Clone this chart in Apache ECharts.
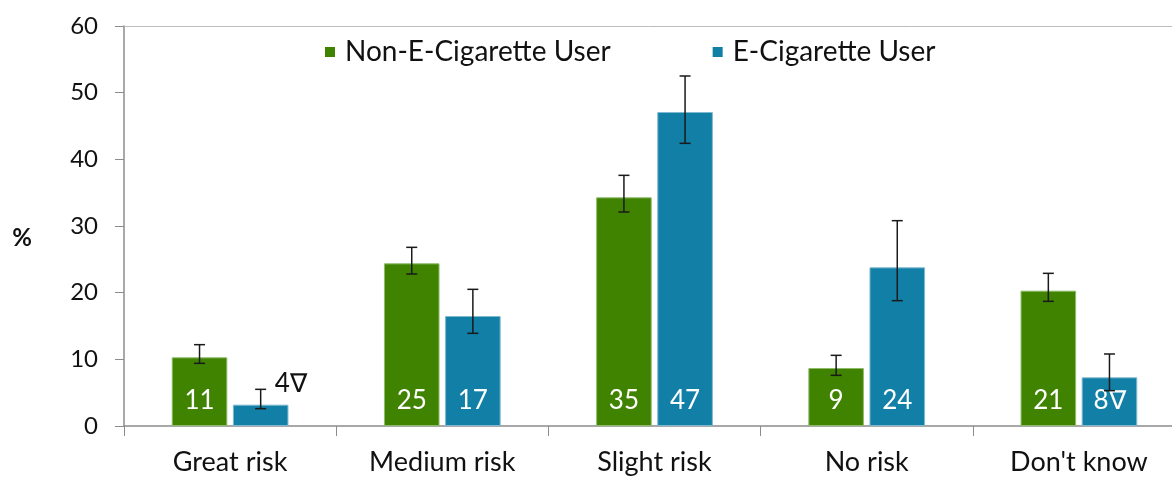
<!DOCTYPE html>
<html>
<head>
<meta charset="utf-8">
<script src="https://cdn.jsdelivr.net/npm/echarts@6/dist/echarts.min.js"></script>
<style>
  html, body { margin: 0; padding: 0; background: #fff; }
  #chart { width: 1172px; height: 477px; }
</style>
</head>
<body>
<div id="chart"></div>
<script>
// Data
const categories = ['Great risk', 'Medium risk', 'Slight risk', 'No risk', "Don't know"];
const seriesNames = ['Non-E-Cigarette User', 'E-Cigarette User'];

const nonUserValues = [10.3, 24.4, 34.3, 8.7, 20.3];
const nonUserLow = [9.4, 22.8, 32.1, 7.6, 18.7];
const nonUserHigh = [12.2, 26.8, 37.6, 10.6, 22.9];
const nonUserLabels = ['11', '25', '35', '9', '21'];

const userValues = [3.2, 16.5, 47.1, 23.8, 7.3];
const userLow = [2.6, 13.9, 42.4, 18.8, 5.3];
const userHigh = [5.5, 20.5, 52.5, 30.8, 10.8];
const userLabels = ['4\u2207', '17', '47', '24', '8\u2207'];

const yTicks = [0, 10, 20, 30, 40, 50, 60];

const GREEN = '#3f8300';
const BLUE = '#127fa7';
const FONT = 'Lato';

const chart = echarts.init(document.getElementById('chart'), null, { renderer: 'canvas' });

// bar layout shared between bars and error bars
const CAT_GAP = 0.45, BAR_GAP = 0.1;

function barData(values, labels) {
	return values.map((v, i) => {
		const item = { value: v, label: { formatter: labels[i] } };
		// too short for an inside label: put it above, black
		if (v < 5) {
			item.label = {
				formatter: labels[i],
				position: 'top',
				color: '#111',
				offset: [30, 4]
			};
		}
		return item;
	});
}

function errorData(low, high) {
	return low.map((lo, i) => [i, lo, high[i]]);
}

function errorRender(side) {
	return function (params, api) {
		const cat = api.value(0);
		const lo = api.coord([cat, api.value(1)]);
		const hi = api.coord([cat, api.value(2)]);
		const band = api.size([1, 0])[0];
		const barW = band * (1 - CAT_GAP) / (2 + BAR_GAP);
		const x = lo[0] + side * barW * (1 + BAR_GAP) / 2;
		const cap = 5.5;
		const style = { stroke: '#1a1a1a', lineWidth: 1.5 };
		return {
			type: 'group',
			children: [
				{ type: 'line', shape: { x1: x, y1: hi[1], x2: x, y2: lo[1] }, style },
				{ type: 'line', shape: { x1: x - cap, y1: hi[1], x2: x + cap, y2: hi[1] }, style },
				{ type: 'line', shape: { x1: x - cap, y1: lo[1], x2: x + cap, y2: lo[1] }, style }
			]
		};
	};
}

const barLabel = {
	show: true,
	position: 'insideBottom',
	distance: 12,
	color: '#fff',
	fontFamily: FONT,
	fontSize: 26
};

const option = {
	animation: false,
	textStyle: { fontFamily: FONT },
	legend: {
		data: seriesNames,
		left: 320,
		top: 33,
		icon: 'rect',
		itemWidth: 10,
		itemHeight: 10,
		itemGap: 102,
		itemStyle: { borderWidth: 0 },
		textStyle: { fontFamily: FONT, fontSize: 28, color: '#111', padding: [0, 0, 0, 5] }
	},
	grid: {
		left: 124,
		right: -13,
		top: 26,
		bottom: 51,
		containLabel: false,
		outerBoundsMode: 'none'
	},
	xAxis: [
		{
			type: 'category',
			data: categories,
			axisLine: { lineStyle: { color: '#8c8c8c', width: 1.5 } },
			axisTick: { show: true, length: 10, lineStyle: { color: '#8c8c8c' } },
			axisLabel: { margin: 23, fontFamily: FONT, fontSize: 27, color: '#111' }
		},
		{
			// top edge of the plot area
			type: 'category',
			position: 'top',
			data: categories,
			axisLine: { show: true, lineStyle: { color: '#bdbdbd', width: 1 } },
			axisTick: { show: false },
			axisLabel: { show: false }
		}
	],
	yAxis: {
		type: 'value',
		min: yTicks[0],
		max: yTicks[yTicks.length - 1],
		interval: 10,
		name: '%',
		nameLocation: 'middle',
		nameRotate: 0,
		nameGap: 92,
		nameTextStyle: { fontFamily: FONT, fontSize: 24, fontWeight: 'bold', color: '#111', verticalAlign: 'top' },
		axisLine: { show: true, lineStyle: { color: '#8c8c8c', width: 1.5 } },
		axisTick: { show: true, length: 9, lineStyle: { color: '#8c8c8c' } },
		axisLabel: { margin: 26, fontFamily: FONT, fontSize: 24, color: '#111' },
		splitLine: { show: false }
	},
	series: [
		{
			name: seriesNames[0],
			type: 'bar',
			data: barData(nonUserValues, nonUserLabels),
			barCategoryGap: (CAT_GAP * 100) + '%',
			barGap: (BAR_GAP * 100) + '%',
			itemStyle: { color: GREEN, borderColor: '#8dbb6a', borderWidth: 1 },
			label: barLabel,
			z: 2
		},
		{
			name: seriesNames[1],
			type: 'bar',
			data: barData(userValues, userLabels),
			barCategoryGap: (CAT_GAP * 100) + '%',
			barGap: (BAR_GAP * 100) + '%',
			itemStyle: { color: BLUE, borderColor: '#7fb9d0', borderWidth: 1 },
			label: barLabel,
			z: 2
		},
		{
			type: 'custom',
			renderItem: errorRender(-1),
			data: errorData(nonUserLow, nonUserHigh),
			encode: { x: 0, y: [1, 2] },
			z: 10,
			silent: true
		},
		{
			type: 'custom',
			renderItem: errorRender(1),
			data: errorData(userLow, userHigh),
			encode: { x: 0, y: [1, 2] },
			z: 10,
			silent: true
		}
	]
};

chart.setOption(option);
</script>
</body>
</html>
